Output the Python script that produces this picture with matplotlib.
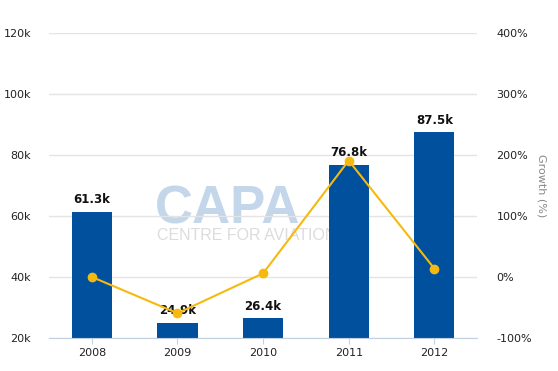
import matplotlib.pyplot as plt

years = ["2008", "2009", "2010", "2011", "2012"]
passengers_k = [61.3, 24.9, 26.4, 76.8, 87.5]
growth_pct = [0.0, -59.4, 6.0, 190.9, 13.9]
bar_labels = ["61.3k", "24.9k", "26.4k", "76.8k", "87.5k"]

plt.rcParams.update({"font.family": "DejaVu Sans", "font.size": 8})

fig, ax = plt.subplots(figsize=(5.58, 3.71), dpi=100)
fig.subplots_adjust(left=0.088, right=0.855, top=0.911, bottom=0.089)

x = list(range(len(years)))

ax.grid(True, axis="y", color="#e4e4e4", linewidth=1)
ax.set_axisbelow(True)

# watermark, behind bars
ax.text(0.278, 0.397, "CAPA", transform=fig.transFigure, fontsize=38,
        fontweight="bold", family="Liberation Sans", color="#c3d6ea",
        zorder=0.3, va="baseline", ha="left")
ax.text(0.282, 0.354, "CENTRE FOR AVIATION", transform=fig.transFigure,
        fontsize=11.5, family="Liberation Sans", color="#dcdcdc",
        zorder=0.3, va="baseline", ha="left")

bars = ax.bar(x, passengers_k, width=0.47, color="#00509e", zorder=2)
for xi, v, lab in zip(x, passengers_k, bar_labels):
    ax.annotate(lab, (xi, v), xytext=(0, 4), textcoords="offset points",
                ha="center", va="bottom", fontweight="bold", fontsize=8.5,
                color="#111111", zorder=3)

ax.set_ylim(20, 120)
ax.set_yticks([20, 40, 60, 80, 100, 120])
ax.set_yticklabels(["20k", "40k", "60k", "80k", "100k", "120k"])
ax.set_xlim(-0.5, 4.5)
ax.set_xticks(x)
ax.set_xticklabels(years)
ax.tick_params(axis="y", length=0, pad=13, labelcolor="#222222")
ax.tick_params(axis="x", length=4, color="#c0d0e0", pad=3, labelcolor="#222222")
for s in ["top", "left", "right"]:
    ax.spines[s].set_visible(False)
ax.spines["bottom"].set_color("#c0d0e0")

ax2 = ax.twinx()
ax2.plot(x, growth_pct, color="#f5b90f", linewidth=1.5, marker="o",
         markersize=6, zorder=4)
ax2.set_ylim(-100, 400)
ax2.set_yticks([-100, 0, 100, 200, 300, 400])
ax2.set_yticklabels(["-100%", "0%", "100%", "200%", "300%", "400%"])
ax2.tick_params(axis="y", length=0, pad=14, labelcolor="#222222")
for s in ["top", "left", "right", "bottom"]:
    ax2.spines[s].set_visible(False)
ax2.set_ylabel("Growth (%)", rotation=270, color="#888888", labelpad=10)

fig.savefig("out.png")
